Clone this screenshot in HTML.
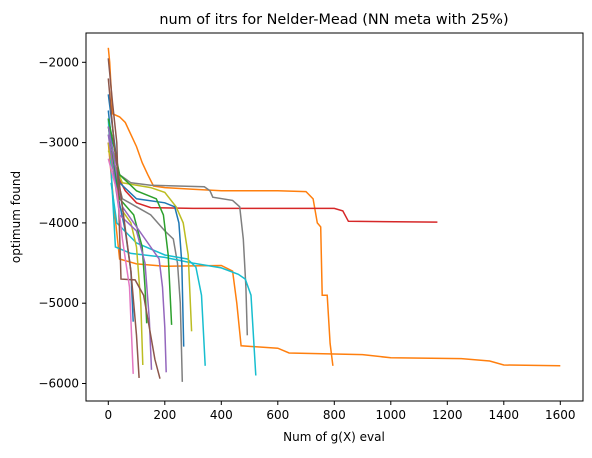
<!DOCTYPE html>
<html><head><meta charset="utf-8"><style>
body{margin:0;background:#fff;font-family:"Liberation Sans","DejaVu Sans",sans-serif}
svg text{font-family:"DejaVu Sans","Liberation Sans",sans-serif}
</style></head><body>
<svg id="chart" width="592" height="453" xmlns="http://www.w3.org/2000/svg">
<rect width="592" height="453" fill="#fff"/>
<g id="lines"></g>
<g id="axes"></g>
<text x="334" y="24" text-anchor="middle" font-size="14.4">num of itrs for Nelder-Mead (NN meta with 25%)</text>
<text x="334" y="441" text-anchor="middle" font-size="12">Num of g(X) eval</text>
<text x="20" y="217" text-anchor="middle" font-size="12" transform="rotate(-90 20 217)">optimum found</text>
</svg>
<script>
const xTicks=[0,200,400,600,800,1000,1200,1400,1600];
const yTicks=[-2000,-3000,-4000,-5000,-6000];
const seriesColors=["#ff7f0e","#ff7f0e","#d62728","#7f7f7f","#7f7f7f","#17becf","#17becf","#bcbd22","#bcbd22","#1f77b4","#1f77b4","#2ca02c","#2ca02c","#9467bd","#9467bd","#8c564b","#8c564b","#e377c2"];
const s0=[[0,-1820],[5,-2000],[15,-2640],[40,-2680],[60,-2750],[80,-2900],[100,-3050],[120,-3250],[140,-3400],[160,-3540],[200,-3560],[300,-3580],[400,-3600],[600,-3600],[700,-3610],[725,-3700],[740,-4000],[752,-4050],[757,-4900],[775,-4900],[785,-5500],[795,-5780]];
const s1=[[0,-3000],[20,-3800],[40,-4450],[100,-4510],[200,-4540],[400,-4530],[440,-4600],[455,-5000],[470,-5530],[600,-5560],[640,-5620],[900,-5640],[1000,-5680],[1250,-5690],[1350,-5720],[1400,-5770],[1600,-5780]];
const s2=[[0,-3000],[30,-3400],[60,-3600],[100,-3750],[150,-3810],[300,-3820],[800,-3820],[830,-3850],[850,-3980],[1165,-3990]];
const s3=[[0,-2900],[40,-3400],[80,-3500],[150,-3530],[340,-3550],[360,-3600],[370,-3680],[440,-3720],[465,-3800],[478,-4200],[487,-4800],[492,-5400]];
const s4=[[20,-3300],[50,-3700],[100,-3800],[150,-3900],[200,-4100],[230,-4200],[245,-4500],[255,-5000],[262,-5980]];
const s5=[[0,-2700],[25,-4300],[80,-4380],[200,-4430],[300,-4500],[400,-4560],[460,-4640],[485,-4700],[505,-4900],[522,-5900]];
const s6=[[10,-3500],[30,-4000],[100,-4250],[200,-4400],[280,-4450],[310,-4550],[330,-4900],[343,-5780]];
const s7=[[0,-3100],[50,-3500],[150,-3560],[200,-3620],[240,-3800],[265,-4000],[283,-4400],[295,-5350]];
const s8=[[0,-3000],[40,-3800],[80,-4000],[100,-4300],[115,-5000],[122,-5770]];
const s9=[[0,-2400],[40,-3500],[100,-3700],[200,-3750],[235,-3800],[250,-4000],[260,-4500],[267,-5540]];
const s10=[[0,-2600],[30,-3600],[60,-4100],[80,-4600],[88,-5230]];
const s11=[[0,-2700],[40,-3400],[100,-3600],[170,-3700],[195,-3900],[212,-4400],[224,-5270]];
const s12=[[0,-2800],[40,-3700],[90,-3900],[120,-4300],[130,-4800],[136,-5250]];
const s13=[[0,-2800],[50,-3800],[150,-4300],[180,-4450],[192,-4800],[200,-5300],[205,-5860]];
const s14=[[0,-2900],[40,-3900],[100,-4100],[130,-4500],[145,-5200],[153,-5830]];
const s15=[[0,-1950],[15,-2500],[30,-3000],[45,-4700],[95,-4710],[125,-4900],[145,-5300],[165,-5700],[183,-5940]];
const s16=[[0,-2200],[20,-3000],[50,-3800],[80,-4600],[100,-5400],[109,-5930]];
const s17=[[0,-3200],[30,-3600],[50,-4200],[75,-4800],[88,-5880]];
const allSeries=[s0,s1,s2,s3,s4,s5,s6,s7,s8,s9,s10,s11,s12,s13,s14,s15,s16,s17];
const X0=86,X1=583,Y0=33,Y1=401;
function xs(v){return 108.3+v*0.2825;}
function ys(v){return 62.3+(-2000-v)*0.0803;}
const NS="http://www.w3.org/2000/svg";
const lines=document.getElementById('lines');
allSeries.forEach((s,i)=>{
 const p=document.createElementNS(NS,'polyline');
 p.setAttribute('points',s.map(d=>xs(d[0]).toFixed(1)+','+ys(d[1]).toFixed(1)).join(' '));
 p.setAttribute('fill','none');p.setAttribute('stroke',seriesColors[i]);p.setAttribute('stroke-width','1.5');
 
 
 lines.appendChild(p);
});
const axes=document.getElementById('axes');
const fr=document.createElementNS(NS,'rect');
fr.setAttribute('x',X0);fr.setAttribute('y',Y0);fr.setAttribute('width',X1-X0);fr.setAttribute('height',Y1-Y0);
fr.setAttribute('fill','none');fr.setAttribute('stroke','#000');fr.setAttribute('stroke-width','1');


axes.appendChild(fr);
xTicks.forEach(t=>{
 const x=xs(t);
 const l=document.createElementNS(NS,'line');
 l.setAttribute('x1',x);l.setAttribute('x2',x);l.setAttribute('y1',Y1);l.setAttribute('y2',Y1+4);l.setAttribute('stroke','#000');
 
 
 axes.appendChild(l);
 const tx=document.createElementNS(NS,'text');
 tx.setAttribute('x',x);tx.setAttribute('y',Y1+18);tx.setAttribute('text-anchor','middle');tx.setAttribute('font-size','12');
 tx.textContent=t;
 
 
 axes.appendChild(tx);
});
yTicks.forEach(t=>{
 const y=ys(t);
 const l=document.createElementNS(NS,'line');
 l.setAttribute('x1',X0-4);l.setAttribute('x2',X0);l.setAttribute('y1',y);l.setAttribute('y2',y);l.setAttribute('stroke','#000');
 
 
 axes.appendChild(l);
 const tx=document.createElementNS(NS,'text');
 tx.setAttribute('x',X0-7);tx.setAttribute('y',y+4);tx.setAttribute('text-anchor','end');tx.setAttribute('font-size','12');
 tx.textContent='\u2212'+Math.abs(t);
 
 
 axes.appendChild(tx);
});
</script>
</body></html>
